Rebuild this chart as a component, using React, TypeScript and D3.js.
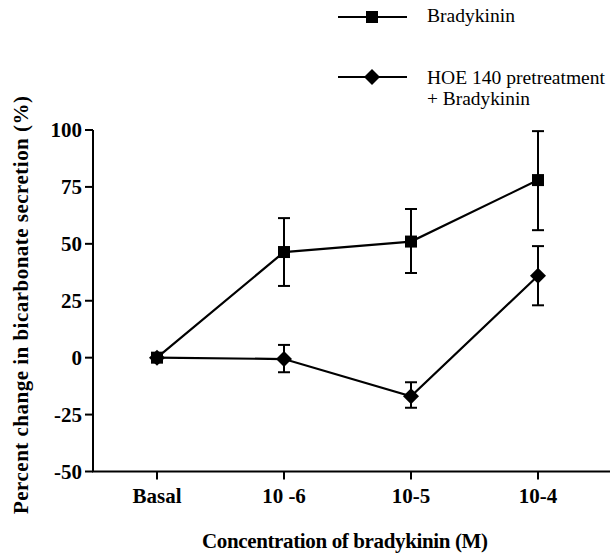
import React from "react";
import * as d3 from "d3";

const categories = ["Basal", "10 -6", "10-5", "10-4"];
const yTicks = [100, 75, 50, 25, 0, -25, -50];
const brady = [0, 46.4, 51, 78];
const bradyUp = [0, 61.3, 65.3, 99.5];
const bradyLo = [0, 31.5, 37.2, 56];
const hoe = [0, -0.6, -17, 36];
const hoeUp = [0, 5.6, -10.8, 49];
const hoeLo = [0, -6.4, -22, 23];

const W = 610, H = 553;
const serif = '"Liberation Serif", "Times New Roman", Times, serif';

function T(props: any) {
  const { size, bold, children, ...rest } = props;
  return (
    <text
      {...rest}
      style={{ fontFamily: serif, fontSize: `${size}px`, fontWeight: bold ? 700 : 400 }}
    >
      {children}
    </text>
  );
}

export default function App() {
  const x = d3.scalePoint<string>().domain(categories).range([157, 538]);
  const y = d3.scaleLinear().domain([-50, 100]).range([471.5, 130]);
  const line = d3.line<number>().x((_, i) => x(categories[i])!).y((d) => y(d));

  const errBars = (vals: number[], up: number[], lo: number[]) =>
    vals.map((v, i) => {
      if (i === 0) return null;
      const cx = x(categories[i])!;
      return (
        <g key={i} stroke="#000" strokeWidth={2}>
          <line x1={cx} x2={cx} y1={y(up[i])} y2={y(lo[i])} />
          <line x1={cx - 6} x2={cx + 6} y1={y(up[i])} y2={y(up[i])} />
          <line x1={cx - 6} x2={cx + 6} y1={y(lo[i])} y2={y(lo[i])} />
        </g>
      );
    });

  const square = (cx: number, cy: number, k: string) => (
    <rect key={k} x={cx - 6} y={cy - 6} width={12} height={12} fill="#000" />
  );
  const diamond = (cx: number, cy: number, k: string) => (
    <path key={k} d={`M${cx},${cy - 8}L${cx + 8},${cy}L${cx},${cy + 8}L${cx - 8},${cy}Z`} fill="#000" />
  );

  return (
    <svg width={W} height={H} style={{ position: "absolute", left: 0, top: 0, background: "#fff" }}>
      {/* legend */}
      <line x1={338} x2={407} y1={17} y2={17} stroke="#000" strokeWidth={2} />
      {square(372, 17, "ls")}
      <T x={427} y={22} size={19} textLength={88} lengthAdjust="spacingAndGlyphs">Bradykinin</T>
      <line x1={338} x2={407} y1={77} y2={77} stroke="#000" strokeWidth={2} />
      {diamond(372, 77, "ld")}
      <T x={427} y={84} size={19} textLength={178} lengthAdjust="spacingAndGlyphs">HOE 140 pretreatment</T>
      <T x={427} y={105} size={19} textLength={103} lengthAdjust="spacingAndGlyphs">+ Bradykinin</T>

      {/* axes */}
      <line x1={93} x2={93} y1={y(100)} y2={y(-50)} stroke="#000" strokeWidth={2} />
      <line x1={92} x2={610} y1={y(-50)} y2={y(-50)} stroke="#000" strokeWidth={2} />
      {yTicks.map((t) => (
        <g key={t}>
          <line x1={85} x2={93} y1={y(t)} y2={y(t)} stroke="#000" strokeWidth={2} />
          <T x={82} y={y(t)} dy="0.35em" textAnchor="end" size={21} bold>{t}</T>
        </g>
      ))}
      {categories.map((c) => (
        <g key={c}>
          <line x1={x(c)} x2={x(c)} y1={y(-50)} y2={y(-50) + 8} stroke="#000" strokeWidth={2} />
          <T x={x(c)} y={503} textAnchor="middle" size={21} bold>{c}</T>
        </g>
      ))}
      <T x={345} y={548} textAnchor="middle" size={21} bold textLength={286} lengthAdjust="spacing">
        Concentration of bradykinin (M)
      </T>
      <T transform="translate(28,305) rotate(-90)" textAnchor="middle" size={21} bold textLength={418} lengthAdjust="spacing">
        Percent change in bicarbonate secretion (%)
      </T>

      {/* series */}
      {errBars(brady, bradyUp, bradyLo)}
      {errBars(hoe, hoeUp, hoeLo)}
      <path d={line(brady)!} fill="none" stroke="#000" strokeWidth={2.2} />
      <path d={line(hoe)!} fill="none" stroke="#000" strokeWidth={2.2} />
      {brady.map((v, i) => square(x(categories[i])!, y(v), "s" + i))}
      {hoe.map((v, i) => diamond(x(categories[i])!, y(v), "d" + i))}
    </svg>
  );
}
